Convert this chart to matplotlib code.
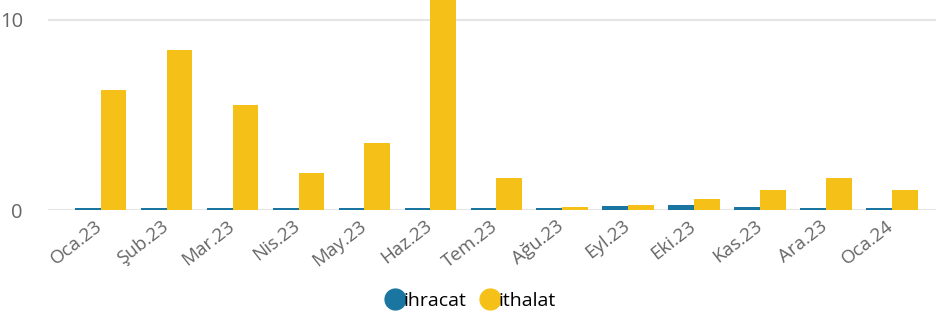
import matplotlib.pyplot as plt
import matplotlib.transforms as mtransforms
import numpy as np
from matplotlib.lines import Line2D

months = ['Oca.23', 'Şub.23', 'Mar.23', 'Nis.23', 'May.23', 'Haz.23', 'Tem.23',
          'Ağu.23', 'Eyl.23', 'Eki.23', 'Kas.23', 'Ara.23', 'Oca.24']
ihracat = [0.12, 0.08, 0.08, 0.08, 0.08, 0.08, 0.08, 0.1, 0.2, 0.25, 0.18, 0.1, 0.12]
ithalat = [6.3, 8.4, 5.5, 1.95, 3.5, 12.0, 1.7, 0.15, 0.27, 0.58, 1.05, 1.7, 1.05]

blue = '#1A76A0'
yellow = '#F5C118'
gray = '#666666'

plt.rcParams['font.family'] = ['Open Sans', 'DejaVu Sans']

fig = plt.figure(figsize=(9.36, 3.22), dpi=100)
ax = fig.add_axes([48 / 936, 112 / 322, 888 / 936, 210 / 322])

x = np.arange(len(months))
w = 0.39
ax.bar(x - w / 2, ihracat, width=w, color=blue, zorder=3)
ax.bar(x + w / 2, ithalat, width=w, color=yellow, zorder=3)

ax.set_xlim(-0.8, 12.67)
ax.set_ylim(0, 11.05)
ax.set_yticks([0, 10])
ax.yaxis.grid(True, color='#E6E6E6', linewidth=1.5, zorder=0)
ax.tick_params(axis='y', length=0, labelsize=14.5, labelcolor=gray, pad=18)
ax.set_xticks(x)
ax.set_xticklabels(months, rotation=38, ha='right', rotation_mode='anchor')
ax.tick_params(axis='x', length=0, labelsize=13.5, labelcolor=gray, pad=5)
shift = mtransforms.ScaledTranslation(-6 / 100, 0, fig.dpi_scale_trans)
for lbl in ax.get_xticklabels():
    lbl.set_transform(lbl.get_transform() + shift)
for s in ax.spines.values():
    s.set_visible(False)

handles = [Line2D([], [], marker='o', linestyle='', markersize=15, color=blue, label='ihracat'),
           Line2D([], [], marker='o', linestyle='', markersize=15, color=yellow, label='ithalat')]
fig.legend(handles=handles, loc='center', bbox_to_anchor=(468 / 936, 1 - 301 / 322), ncol=2,
           frameon=False, fontsize=14, handletextpad=-0.35, columnspacing=0.5,
           handlelength=1.5)

fig.savefig('out.png', dpi=100)
